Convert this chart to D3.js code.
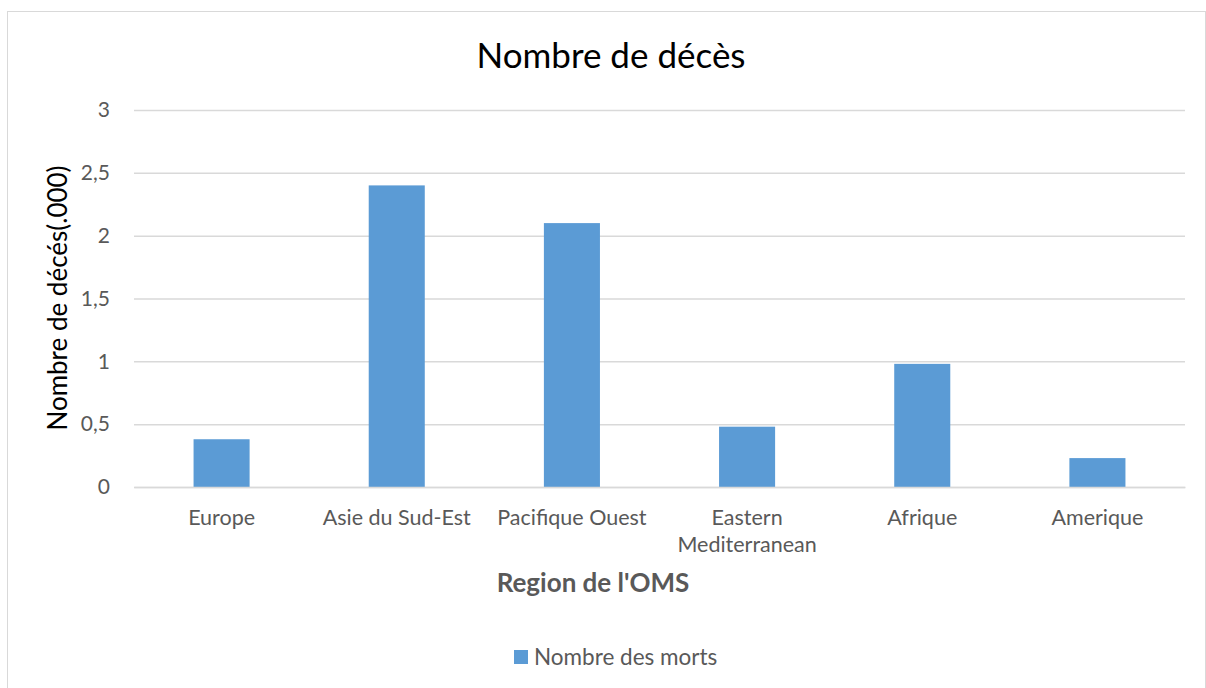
<!DOCTYPE html>
<html>
<head>
<meta charset="utf-8">
<script src="https://cdn.jsdelivr.net/npm/d3@7"></script>
<style>
  body { margin: 0; background: #fff; }
  svg text { font-family: Lato, "Open Sans", sans-serif; }
</style>
</head>
<body>
<div id="chart"></div>
<script>
// Données du graphique
const regions = ["Europe", "Asie du Sud-Est", "Pacifique Ouest", "Eastern Mediterranean", "Afrique", "Amerique"];
const morts = [0.38, 2.40, 2.10, 0.48, 0.98, 0.23];
const yTicks = [0, 0.5, 1, 1.5, 2, 2.5, 3];
const seriesName = "Nombre des morts";

const W = 1206, H = 688;
const margin = { top: 110, right: 21, bottom: 201, left: 134 };
const innerW = W - margin.left - margin.right;
const innerH = H - margin.top - margin.bottom;
const barColor = "#5b9bd5";
const FONT = "Lato, 'Open Sans', sans-serif";

const svg = d3.select("#chart").append("svg")
  .attr("width", W).attr("height", H);

// cadre
svg.append("rect")
  .attr("x", 7.5).attr("y", 11.5)
  .attr("width", W - 8).attr("height", H - 10)
  .attr("fill", "none").attr("stroke", "#d9d9d9");

svg.append("text")
  .attr("x", 611).attr("y", 68)
  .attr("text-anchor", "middle")
  .attr("font-size", 35).attr("fill", "#000")
  .text("Nombre de décès");

const g = svg.append("g").attr("transform", `translate(${margin.left},${margin.top})`);

const x = d3.scaleBand().domain(regions).range([0, innerW]).paddingInner(0.68).paddingOuter(0.34);
const y = d3.scaleLinear().domain([0, 3]).range([innerH, 0]);

// grille
const grid = g.append("g")
  .call(d3.axisLeft(y).tickValues(yTicks).tickSize(-innerW).tickFormat(""));
grid.select(".domain").remove();
grid.selectAll("line").attr("stroke", "#d9d9d9").attr("stroke-width", 1.5);

// axe Y
const fmt = d => String(d).replace(".", ",");
const yAx = g.append("g").call(d3.axisLeft(y).tickValues(yTicks).tickSize(0).tickPadding(24).tickFormat(fmt));
yAx.select(".domain").remove();
yAx.selectAll("text").attr("font-size", 21).attr("fill", "#595959").style("font-family", FONT);

// barres
g.selectAll("rect.bar").data(morts).enter().append("rect")
  .attr("class", "bar")
  .attr("x", (d, i) => x(regions[i]))
  .attr("y", d => y(d))
  .attr("width", x.bandwidth())
  .attr("height", d => innerH - y(d))
  .attr("fill", barColor);

// axe X
const xAx = g.append("g").attr("transform", `translate(0,${innerH})`)
  .call(d3.axisBottom(x).tickSize(0).tickPadding(0));
xAx.select(".domain").attr("stroke", "#d9d9d9").attr("stroke-width", 1.5);
xAx.selectAll("text").remove();
xAx.selectAll(".tick").each(function (d) {
  const t = d3.select(this).append("text")
    .attr("text-anchor", "middle").attr("font-size", 21.5).attr("fill", "#595959")
    .style("font-family", FONT);
  const lines = d === "Eastern Mediterranean" ? ["Eastern", "Mediterranean"] : [d];
  lines.forEach((l, k) => t.append("tspan").attr("x", 0).attr("y", 38 + k * 27).text(l));
});

// titres des axes
svg.append("text")
  .attr("x", 593).attr("y", 592)
  .attr("text-anchor", "middle").attr("font-size", 26).attr("font-weight", "bold")
  .attr("fill", "#595959")
  .text("Region de l'OMS");

svg.append("text")
  .attr("transform", `translate(67,298) rotate(-90)`)
  .attr("text-anchor", "middle").attr("font-size", 26).attr("fill", "#000")
  .text("Nombre de décés(.000)");

// légende
const leg = svg.append("g").attr("transform", "translate(514,650)");
leg.append("rect").attr("width", 14).attr("height", 14).attr("fill", barColor);
leg.append("text").attr("x", 20).attr("y", 15).attr("font-size", 22.5).attr("fill", "#595959")
  .text(seriesName);
</script>
</body>
</html>
